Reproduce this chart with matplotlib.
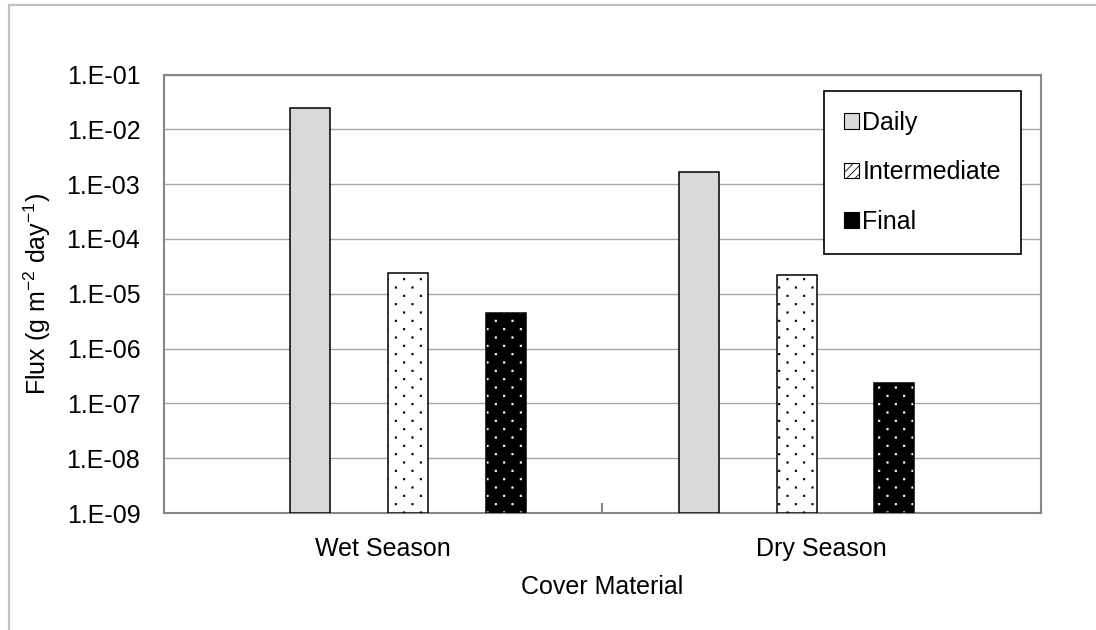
import numpy as np
import matplotlib
matplotlib.use("Agg")
import matplotlib.pyplot as plt
from matplotlib import hatch as mhatch
from matplotlib.path import Path
from matplotlib.patches import Patch, Rectangle

# ---- data -------------------------------------------------------------
seasons = ["Wet Season", "Dry Season"]
cover_types = ["Daily", "Intermediate", "Final"]
daily = [2.5e-2, 1.7e-3]
intermediate = [2.4e-5, 2.2e-5]
final = [4.5e-6, 2.4e-7]
y_ticks = [1e-1, 1e-2, 1e-3, 1e-4, 1e-5, 1e-6, 1e-7, 1e-8, 1e-9]
y_tick_labels = ["1.E-01", "1.E-02", "1.E-03", "1.E-04", "1.E-05",
                 "1.E-06", "1.E-07", "1.E-08", "1.E-09"]


# ---- staggered square-dot hatch used for the "." pattern --------------
class StaggeredDots(mhatch.HatchPatternBase):
    rows = 12          # rows per hatch unit (even so the pattern tiles)
    half = 0.0065      # half side of each dot, in hatch units

    def __init__(self, hatch, density):
        self.n = self.rows if "." in hatch else 0
        self.num_vertices = (self.n * self.n // 2) * 5

    def set_vertices_and_codes(self, vertices, codes):
        n, h = self.n, self.half
        step = 1.0 / n
        sq = np.array([[-h, -h], [h, -h], [h, h], [-h, h], [-h, -h]])
        k = 0
        for r in range(n):
            for c in range(r % 2, n, 2):
                vertices[k:k + 5] = sq + [(c + 0.5) * step, (r + 0.5) * step]
                codes[k:k + 5] = [Path.MOVETO, Path.LINETO, Path.LINETO,
                                  Path.LINETO, Path.CLOSEPOLY]
                k += 5


mhatch._hatch_types = [t for t in mhatch._hatch_types
                       if t is not mhatch.SmallFilledCircles] + [StaggeredDots]

# ---- style --------------------------------------------------------------
plt.rcParams["font.family"] = ["Liberation Sans", "DejaVu Sans"]
plt.rcParams["mathtext.fontset"] = "custom"
plt.rcParams["mathtext.rm"] = "Liberation Sans"
plt.rcParams["mathtext.it"] = "Liberation Sans:italic"
plt.rcParams["mathtext.default"] = "regular"
plt.rcParams["hatch.linewidth"] = 0.6
FS = 18

fig = plt.figure(figsize=(10.96, 6.30), dpi=100)
ax = fig.add_axes([0.1496, 0.1857, 0.8002, 0.6960])

# light outer frame of the chart area
fig.add_artist(Rectangle((0.0078, -0.05), 1.1, 0.042 + 1.0, transform=fig.transFigure,
                         fill=False, edgecolor="#c0c0c0", linewidth=1.6,
                         clip_on=False))

YMIN, YMAX = 1e-9, 1e-1
x = np.arange(len(seasons))
width = 0.103
offsets = [-0.252, 0.0, 0.252]

ax.set_yscale("log")
ax.set_ylim(YMIN, YMAX)
ax.set_xlim(-0.628, 1.629)

# gridlines
ax.set_axisbelow(True)
ax.yaxis.grid(True, color="#a6a6a6", linewidth=1.0)
ax.xaxis.grid(False)

# Daily: solid light grey
ax.bar(x + offsets[0], np.array(daily) - YMIN, width, bottom=YMIN,
       color="#d9d9d9", edgecolor="black", linewidth=1.1, zorder=3)

# Intermediate: white with black dots
ax.bar(x + offsets[1], np.array(intermediate) - YMIN, width, bottom=YMIN,
       color="white", edgecolor="black", hatch=".", linewidth=1.1, zorder=3)

# Final: black with white dots, outlined in black
ax.bar(x + offsets[2], np.array(final) - YMIN, width, bottom=YMIN,
       color="black", edgecolor="white", hatch=".", linewidth=0, zorder=3)
ax.bar(x + offsets[2], np.array(final) - YMIN, width, bottom=YMIN,
       fill=False, edgecolor="black", linewidth=1.1, zorder=4)

# axes frame
for side in ax.spines.values():
    side.set_color("#868686")
    side.set_linewidth(1.5)

ax.set_yticks(y_ticks)
ax.set_yticklabels(y_tick_labels)
ax.yaxis.set_minor_locator(matplotlib.ticker.NullLocator())
ax.tick_params(axis="y", length=0, pad=17, labelsize=FS)

lo, hi = ax.get_xlim()
ax.set_xticks([0.5])
ax.set_xticklabels([""])
ax.tick_params(axis="x", which="major", direction="in", length=7,
               width=1.5, color="#868686")
ax.set_xticks([(lo + 0.5) / 2, (0.5 + hi) / 2], minor=True)
ax.set_xticklabels(seasons, minor=True)
ax.tick_params(axis="x", which="minor", length=0, pad=17, labelsize=FS)

ax.set_xlabel("Cover Material", fontsize=FS, labelpad=10)
ax.set_ylabel("Flux (g m$^{-2}$ day$^{-1}$)", fontsize=FS, labelpad=10)

handles = [
    Patch(facecolor="#d9d9d9", edgecolor="black", linewidth=0.8),
    Patch(facecolor="white", edgecolor="black", hatch="////", linewidth=0.8),
    Patch(facecolor="black", edgecolor="black", linewidth=0.8),
]
leg = ax.legend(handles, cover_types, loc="upper right",
                bbox_to_anchor=(0.977, 0.963), borderaxespad=0,
                fontsize=FS, handlelength=0.6, handleheight=0.6,
                handletextpad=0.15, labelspacing=1.02, borderpad=0.8,
                fancybox=False, framealpha=1)
leg.get_frame().set_edgecolor("black")
leg.get_frame().set_linewidth(1.2)

fig.savefig("out.png", dpi=100)
